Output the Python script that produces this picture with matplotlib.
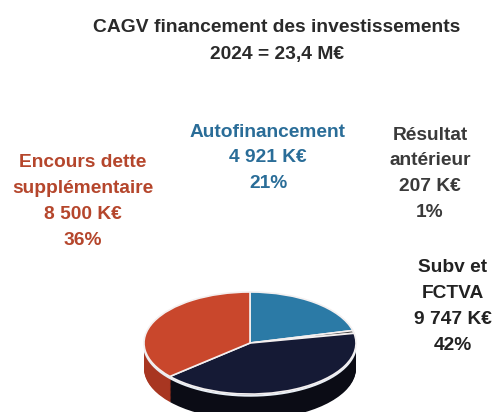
import matplotlib
matplotlib.use("Agg")
import matplotlib.pyplot as plt
import numpy as np
from matplotlib.font_manager import fontManager

names = {f.name for f in fontManager.ttflist}
FAM = ["Liberation Sans Narrow", "Liberation Sans", "DejaVu Sans"] if "Liberation Sans Narrow" in names else ["Liberation Sans", "DejaVu Sans"]
plt.rcParams['font.family'] = FAM

title_lines = ["CAGV financement des investissements", "2024 = 23,4 M€"]
categories = ["Autofinancement", "Résultat\nantérieur", "Subv et\nFCTVA", "Encours dette\nsupplémentaire"]
values_ke = [4921, 207, 9747, 8500]
value_labels = ["4 921 K€", "207 K€", "9 747 K€", "8 500 K€"]
pct_labels = ["21%", "1%", "42%", "36%"]
top_colors = ["#2b7aa6", "#4a4a4a", "#151a35", "#c9472c"]
side_colors = ["#1d5578", "#2a2a2a", "#0b0c15", "#a83621"]
text_colors = ["#2a6d98", "#3a3a3a", "#222222", "#b5462c"]

W, H = 497, 412
fig = plt.figure(figsize=(W / 100, H / 100), dpi=100)
fig.patch.set_facecolor("white")

# pie axes: unit circle -> ellipse (a=106px, b=51px)
ax = fig.add_axes([144 / W, -28 / H, 212 / W, 148 / H])
depth = 0.5
for k in np.linspace(depth, 0.02, 30):
    ax.pie(values_ke, colors=side_colors, startangle=90, counterclock=False,
           center=(0, -k), wedgeprops=dict(linewidth=0))
# white rim line along lower edge of top face
t = np.linspace(np.pi * 1.03, np.pi * 1.97, 200)
ax.plot(np.cos(t), np.sin(t) - 0.03, color="#e8eef5", lw=1.6, zorder=5)
wedges, _ = ax.pie(values_ke, colors=top_colors, startangle=90, counterclock=False,
                   center=(0, 0), wedgeprops=dict(linewidth=1.2, edgecolor="#f4f0f0"))
for w in wedges:
    w.set_zorder(6)
ax.set_aspect("auto")
ax.set_xlim(-1, 1)
ax.set_ylim(-1.9, 1)
ax.axis("off")

def fx(x):
    return x / W

def fy(y):
    return 1 - y / H

fig.text(fx(277), fy(28), title_lines[0], ha="center", va="center", fontsize=13.9,
         weight="bold", color="#2a2a2a")
fig.text(fx(277), fy(54), title_lines[1], ha="center", va="center", fontsize=13.9,
         weight="bold", color="#2a2a2a")

label_pos = [(268, 132), (430, 135), (453, 268), (83, 163)]
for cat, vl, pl, col, (x, y) in zip(categories, value_labels, pct_labels, text_colors, label_pos):
    lines = cat.split("\n") + [vl, pl]
    for i, ln in enumerate(lines):
        fig.text(fx(x), fy(y + 25.8 * i), ln, ha="center", va="center",
                 fontsize=13.8, weight="bold", color=col)

fig.savefig("out.png", dpi=100, facecolor="white")
